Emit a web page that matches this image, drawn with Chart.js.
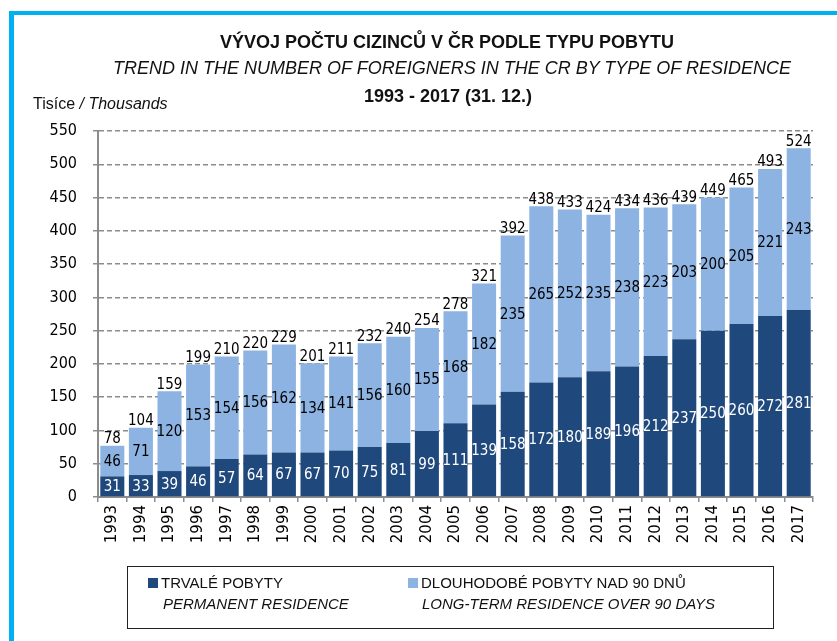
<!DOCTYPE html>
<html>
<head>
<meta charset="utf-8">
<script src="https://cdn.jsdelivr.net/npm/chart.js@4"></script>
<style>
  body { margin: 0; background: #fff; }
  #wrap { position: relative; width: 837px; height: 641px; overflow: hidden; font-family: "Liberation Sans Narrow", "Liberation Sans", sans-serif; color: #111; }
  canvas { position: absolute; left: 0; top: 0; }
  .bar-top { position: absolute; left: 9px; top: 11px; width: 828px; height: 4px; background: #00b0f0; }
  .bar-left { position: absolute; left: 9px; top: 11px; width: 5px; height: 630px; background: #00b0f0; }
  .t { position: absolute; white-space: nowrap; }
  #t1 { left: 0; width: 894px; top: 32px; text-align: center; font-weight: bold; font-size: 18px; }
  #t2 { left: 0; width: 904px; top: 58px; text-align: center; font-style: italic; font-size: 18px; }
  #t3 { left: 0; width: 896px; top: 86px; text-align: center; font-weight: bold; font-size: 18px; }
  #unit { left: 33px; top: 95px; font-size: 16px; }
  #legend { position: absolute; left: 127px; top: 566px; width: 645px; height: 61px; border: 1.5px solid #222; }
  .item { position: absolute; top: 5px; font-size: 15px; line-height: 21px; }
  .sq { display: inline-block; width: 10px; height: 10px; margin-right: 3px; }
</style>
</head>
<body>
<div id="wrap">
  <canvas id="chart" width="837" height="641"></canvas>
  <div class="bar-top"></div>
  <div class="bar-left"></div>
  <div class="t" id="t1">VÝVOJ POČTU CIZINCŮ V ČR PODLE TYPU POBYTU</div>
  <div class="t" id="t2">TREND IN THE NUMBER OF FOREIGNERS IN THE CR BY TYPE OF RESIDENCE</div>
  <div class="t" id="t3">1993 - 2017 (31. 12.)</div>
  <div class="t" id="unit">Tisíce <i>/ Thousands</i></div>
  <div id="legend">
    <div class="item" style="left:20px"><span class="sq" style="background:#1f497d"></span>TRVALÉ POBYTY<br><i style="padding-left:15px">PERMANENT RESIDENCE</i></div>
    <div class="item" style="left:280px"><span class="sq" style="background:#8db3e2"></span>DLOUHODOBÉ POBYTY NAD 90 DNŮ<br><i style="padding-left:14px">LONG-TERM RESIDENCE OVER 90 DAYS</i></div>
  </div>
</div>
<script>
const years = ['1993', '1994', '1995', '1996', '1997', '1998', '1999', '2000', '2001', '2002', '2003', '2004',
  '2005', '2006', '2007', '2008', '2009', '2010', '2011', '2012', '2013', '2014', '2015', '2016', '2017'];
const permanent = [31, 33, 39, 46, 57, 64, 67, 67, 70, 75, 81, 99, 111, 139, 158, 172, 180, 189, 196, 212, 237, 250, 260, 272, 281];
const longTerm = [46, 71, 120, 153, 154, 156, 162, 134, 141, 156, 160, 155, 168, 182, 235, 265, 252, 235, 238, 223, 203, 200, 205, 221, 243];
const totals = [78, 104, 159, 199, 210, 220, 229, 201, 211, 232, 240, 254, 278, 321, 392, 438, 433, 424, 434, 436, 439, 449, 465, 493, 524];

const numFont = '15px "DejaVu Sans Condensed", "DejaVu Sans"';

// value labels inside the segments and the totals on top
const barLabels = {
  id: 'barLabels',
  afterDatasetsDraw(chart) {
    const ctx = chart.ctx;
    ctx.save();
    ctx.font = numFont;
    ctx.textAlign = 'center';
    chart.data.datasets.forEach((ds, i) => {
      chart.getDatasetMeta(i).data.forEach((bar, j) => {
        ctx.fillStyle = i === 0 ? '#fff' : '#000';
        ctx.textBaseline = 'middle';
        ctx.fillText(ds.data[j], bar.x, (bar.y + bar.base) / 2 + 1);
      });
    });
    ctx.fillStyle = '#000';
    ctx.textBaseline = 'bottom';
    chart.getDatasetMeta(1).data.forEach((bar, j) => {
      ctx.fillText(totals[j], bar.x, bar.y + 1);
    });
    ctx.restore();
  }
};

new Chart(document.getElementById('chart'), {
  type: 'bar',
  data: {
    labels: years,
    datasets: [
      { label: 'TRVALÉ POBYTY', data: permanent, backgroundColor: '#1f497d' },
      { label: 'DLOUHODOBÉ POBYTY NAD 90 DNŮ', data: longTerm, backgroundColor: '#8db3e2' }
    ]
  },
  options: {
    responsive: false,
    animation: false,
    barPercentage: 0.84,
    categoryPercentage: 1,
    layout: { padding: { top: 131, right: 24, left: 0, bottom: 0 } },
    plugins: { legend: { display: false }, tooltip: { enabled: false } },
    scales: {
      x: {
        stacked: true,
        afterFit: s => { s.height = 144; },
        grid: { drawOnChartArea: false, tickLength: 5, color: '#8c8c8c', lineWidth: 1.5 },
        border: { color: '#8c8c8c', width: 2 },
        ticks: { minRotation: 90, maxRotation: 90, color: '#000', font: { family: 'DejaVu Sans', size: 15 }, padding: 3 }
      },
      y: {
        stacked: true,
        min: 0,
        max: 550,
        afterFit: s => { s.width = 98; },
        grid: { color: '#8c8c8c', lineWidth: 1.5, tickLength: 5, tickBorderDash: [] },
        border: { color: '#8c8c8c', width: 2, dash: [5, 3] },
        ticks: { stepSize: 50, color: '#000', font: { family: '"DejaVu Sans Condensed", "DejaVu Sans"', size: 16 }, padding: 16 }
      }
    }
  },
  plugins: [barLabels]
});
</script>
</body>
</html>
